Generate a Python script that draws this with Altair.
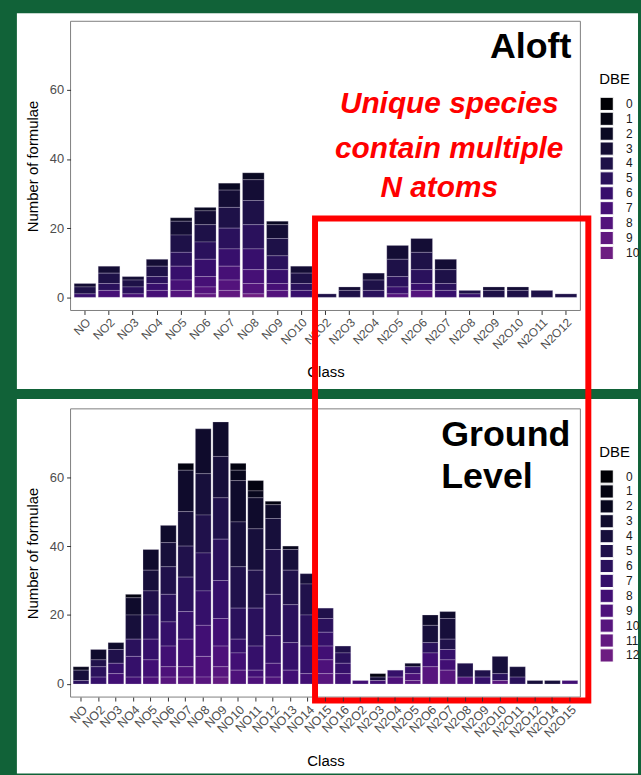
import altair as alt
import pandas as pd

# ---------------- data ----------------
aloft_classes = ["NO", "NO2", "NO3", "NO4", "NO5", "NO6", "NO7", "NO8", "NO9", "NO10",
                 "N2O2", "N2O3", "N2O4", "N2O5", "N2O6", "N2O7", "N2O8", "N2O9",
                 "N2O10", "N2O11", "N2O12"]
aloft_dbe = list(range(11))
# counts of formulae per DBE (index = DBE 0..10)
aloft_counts = [
    [0, 0, 0, 1, 2, 0, 1, 0, 0, 0, 0],   # NO
    [0, 0, 0, 2, 3, 2, 0, 2, 0, 0, 0],   # NO2
    [0, 0, 0, 1, 2, 2, 0, 1, 0, 0, 0],   # NO3
    [0, 0, 0, 2, 3, 2, 2, 2, 0, 0, 0],   # NO4
    [0, 0, 1, 4, 5, 4, 4, 3, 2, 0, 0],   # NO5
    [0, 0, 1, 4, 5, 5, 5, 3, 2, 1, 0],   # NO6
    [0, 0, 2, 5, 6, 6, 5, 4, 3, 2, 0],   # NO7
    [0, 0, 2, 6, 7, 7, 6, 4, 3, 0, 1],   # NO8
    [0, 0, 1, 4, 5, 4, 4, 2, 2, 0, 0],   # NO9
    [0, 0, 0, 2, 3, 2, 2, 0, 0, 0, 0],   # NO10
    [0, 0, 0, 0, 1, 0, 0, 0, 0, 0, 0],   # N2O2
    [0, 0, 0, 1, 2, 0, 0, 0, 0, 0, 0],   # N2O3
    [0, 0, 0, 2, 3, 2, 0, 0, 0, 0, 0],   # N2O4
    [0, 0, 0, 4, 5, 3, 2, 0, 1, 0, 0],   # N2O5
    [0, 0, 0, 4, 5, 4, 2, 0, 2, 0, 0],   # N2O6
    [0, 0, 0, 3, 4, 2, 2, 0, 0, 0, 0],   # N2O7
    [0, 0, 0, 0, 1, 0, 1, 0, 0, 0, 0],   # N2O8
    [0, 0, 0, 1, 2, 0, 0, 0, 0, 0, 0],   # N2O9
    [0, 0, 0, 1, 2, 0, 0, 0, 0, 0, 0],   # N2O10
    [0, 0, 0, 0, 2, 0, 0, 0, 0, 0, 0],   # N2O11
    [0, 0, 0, 0, 1, 0, 0, 0, 0, 0, 0],   # N2O12
]

ground_classes = ["NO", "NO2", "NO3", "NO4", "NO5", "NO6", "NO7", "NO8", "NO9", "NO10",
                  "NO11", "NO12", "NO13", "NO14", "NO15", "NO16",
                  "N2O2", "N2O3", "N2O4", "N2O5", "N2O6", "N2O7", "N2O8", "N2O9",
                  "N2O10", "N2O11", "N2O12", "N2O14", "N2O15"]
ground_dbe = list(range(13))
# counts of formulae per DBE (index = DBE 0..12)
ground_counts = [
    [0, 0, 1, 0, 3, 0, 1, 0, 0, 0, 0, 0, 0],      # NO
    [0, 0, 0, 3, 0, 2, 3, 2, 0, 0, 0, 0, 0],      # NO2
    [0, 0, 0, 2, 0, 4, 0, 3, 3, 0, 0, 0, 0],      # NO3
    [0, 1, 0, 5, 7, 0, 5, 6, 2, 0, 0, 0, 0],      # NO4
    [0, 0, 0, 6, 6, 7, 7, 6, 5, 2, 0, 0, 0],      # NO5
    [0, 0, 0, 5, 7, 8, 8, 7, 6, 3, 2, 0, 0],      # NO6
    [0, 2, 0, 12, 10, 9, 10, 8, 8, 3, 2, 0, 0],   # NO7
    [0, 0, 0, 13, 12, 11, 11, 10, 9, 6, 2, 0, 0], # NO8
    [0, 0, 0, 10, 12, 12, 12, 11, 8, 6, 3, 2, 0], # NO9
    [0, 2, 3, 12, 13, 12, 9, 4, 5, 4, 0, 0, 0],   # NO10
    [0, 3, 2, 9, 12, 11, 11, 7, 2, 2, 0, 0, 0],   # NO11
    [0, 1, 0, 4, 9, 13, 12, 8, 4, 2, 0, 0, 0],    # NO12
    [0, 0, 1, 0, 6, 10, 11, 8, 4, 0, 0, 0, 0],    # NO13
    [0, 0, 0, 0, 3, 9, 9, 8, 3, 0, 0, 0, 0],      # NO14
    [0, 0, 0, 0, 0, 3, 4, 4, 4, 4, 3, 0, 0],      # NO15
    [0, 0, 0, 0, 0, 2, 3, 3, 3, 0, 0, 0, 0],      # NO16
    [0, 0, 0, 0, 0, 0, 0, 0, 1, 0, 0, 0, 0],      # N2O2
    [0, 1, 0, 0, 1, 0, 0, 0, 1, 0, 0, 0, 0],      # N2O3
    [0, 0, 0, 0, 0, 0, 0, 2, 0, 2, 0, 0, 0],      # N2O4
    [0, 0, 0, 1, 0, 0, 0, 2, 0, 2, 1, 0, 0],      # N2O5
    [0, 0, 0, 3, 5, 0, 3, 0, 4, 0, 5, 0, 0],      # N2O6
    [0, 0, 0, 2, 6, 3, 0, 3, 3, 0, 4, 0, 0],      # N2O7
    [0, 0, 0, 0, 0, 4, 0, 0, 0, 2, 0, 0, 0],      # N2O8
    [0, 0, 0, 0, 0, 2, 0, 2, 0, 0, 0, 0, 0],      # N2O9
    [0, 0, 0, 0, 5, 0, 2, 0, 0, 0, 1, 0, 0],      # N2O10
    [0, 0, 0, 0, 3, 0, 2, 0, 0, 0, 0, 0, 0],      # N2O11
    [0, 0, 0, 0, 1, 0, 0, 0, 0, 0, 0, 0, 0],      # N2O12
    [0, 0, 0, 0, 1, 0, 0, 0, 0, 0, 0, 0, 0],      # N2O14
    [0, 0, 0, 0, 0, 0, 0, 0, 1, 0, 0, 0, 0],      # N2O15
]

y_ticks = [0, 20, 40, 60]
y_domain = [-3.8, 79.8]


def to_long(classes, dbes, counts):
    rows = []
    for c, row in zip(classes, counts):
        for d, n in zip(dbes, row):
            if n > 0:
                rows.append({"Class": c, "DBE": d, "Count": n})
    return pd.DataFrame(rows)


aloft_df = to_long(aloft_classes, aloft_dbe, aloft_counts)
ground_df = to_long(ground_classes, ground_dbe, ground_counts)

# ---------------- style ----------------
FONT = "Liberation Sans"
GREEN = "#116238"
MAGMA_END = 0.32
W = 513


def color_scale(dbes):
    n = len(dbes)
    e0 = -MAGMA_END / (n - 1)
    e1 = e0 + MAGMA_END * (n + 1) / (n - 1)
    return alt.Scale(scheme=alt.SchemeParams(name="magma", extent=[e0, e1]), domain=dbes)


def panel(df, classes, dbes, H, lay, title_y, xlab_size):
    one = alt.Data(values=[{}])
    white = alt.Chart(one).mark_rect(fill="white").encode(
        x=alt.value(-54), x2=alt.value(571), y=alt.value(lay[2]), y2=alt.value(lay[3]))
    frame = alt.Chart(one).mark_rect(filled=False, stroke="#7f7f7f", strokeWidth=1).encode(
        x=alt.value(0), x2=alt.value(W), y=alt.value(0), y2=alt.value(H))
    bars = alt.Chart(df).mark_bar(stroke="#e6dcef", strokeWidth=0.4, strokeOpacity=0.6).encode(
        x=alt.X("Class:N", sort=classes,
                scale=alt.Scale(domain=classes, paddingInner=0.1, paddingOuter=0.15),
                axis=alt.Axis(title="Class", labelAngle=-45, labelAlign="right",
                              labelBaseline="top", labelPadding=2, tickSize=4,
                              labelOverlap=False, labelBound=False, domain=False,
                              labelFontSize=xlab_size, labelColor="#4d4d4d",
                              tickColor="#333333",
                              titleFontSize=15, titleFontWeight="normal", titleColor="black",
                              titleX=W / 2, titleY=title_y, titleBaseline="alphabetic",
                              titleAlign="center", zindex=1)),
        y=alt.Y("Count:Q", stack="zero",
                scale=alt.Scale(domain=y_domain, nice=False, zero=False),
                axis=alt.Axis(title="Number of formulae", values=y_ticks, grid=False,
                              domain=False, tickSize=4, labelPadding=3, labelFontSize=13,
                              labelColor="#4d4d4d", tickColor="#333333",
                              titleFontSize=15, titleFontWeight="normal", titleColor="black",
                              titleX=-33, titleY=H / 2, titleAngle=-90,
                              titleBaseline="alphabetic", titleAlign="center", zindex=1)),
        color=alt.Color("DBE:O", scale=color_scale(dbes),
                        legend=alt.Legend(title="DBE", orient="none", legendX=532,
                                          legendY=lay[0], symbolType="square",
                                          symbolSize=176, symbolStrokeColor="white",
                                          symbolStrokeWidth=1, symbolOpacity=1,
                                          labelFontSize=12, labelColor="#1a1a1a",
                                          labelOffset=12, titleFontSize=15,
                                          titleFontWeight="normal", titleColor="black",
                                          titlePadding=lay[1], rowPadding=0,
                                          clipHeight=14.2, padding=0, zindex=1)),
        order=alt.Order("DBE:Q", sort="descending"),
    )
    return white, frame, bars, one


# top panel (Aloft)
H1 = 291
w1, f1, b1, one = panel(aloft_df, aloft_classes, aloft_dbe, H1, (51, 10, -8, 370), 66, 12)
aloft_txt = alt.Chart(one).mark_text(text="Aloft", font=FONT, fontSize=36, fontWeight="bold",
                                     align="right", baseline="alphabetic", color="black").encode(
    x=alt.value(504), y=alt.value(37))
red_font = dict(font=FONT, fontSize=30, fontWeight="bold", fontStyle="italic",
                align="center", baseline="alphabetic", color="#ff0000")
red1 = alt.Chart(one).mark_text(text="Unique species", **red_font).encode(
    x=alt.value(381), y=alt.value(92))
red2 = alt.Chart(one).mark_text(text="contain multiple", **red_font).encode(
    x=alt.value(381), y=alt.value(138))
red3 = alt.Chart(one).mark_text(text="N atoms", **red_font).encode(
    x=alt.value(371), y=alt.value(177))
top = alt.layer(w1, f1, b1, aloft_txt, red1, red2, red3).properties(width=W, height=H1)

# bottom panel (Ground Level)
H2 = 290
w2, f2, b2, one2 = panel(ground_df, ground_classes, ground_dbe, H2, (36, 10, -10, 367), 69, 12.5)
ground_txt = alt.Chart(one2).mark_text(text=["Ground", "Level"], font=FONT, fontSize=36,
                                       fontWeight="bold", align="left", baseline="alphabetic",
                                       lineHeight=43, color="black").encode(
    x=alt.value(373), y=alt.value(37))
red_box = alt.Chart(one2).mark_rect(filled=False, stroke="#ff0000", strokeWidth=6).encode(
    x=alt.value(246), x2=alt.value(521), y=alt.value(-191.5), y2=alt.value(293.5))
bottom = alt.layer(w2, f2, b2, ground_txt, red_box).properties(width=W, height=H2)

chart = alt.vconcat(top, bottom, spacing=99, bounds="flush").resolve_scale(
    color="independent", x="independent", y="independent"
).resolve_legend(color="independent").configure(
    background=GREEN, padding={"left": 16, "top": 10, "right": 0, "bottom": 0}, font=FONT
).configure_view(stroke="transparent")

chart.save("out.html", embed_options={"renderer": "svg", "actions": False})
